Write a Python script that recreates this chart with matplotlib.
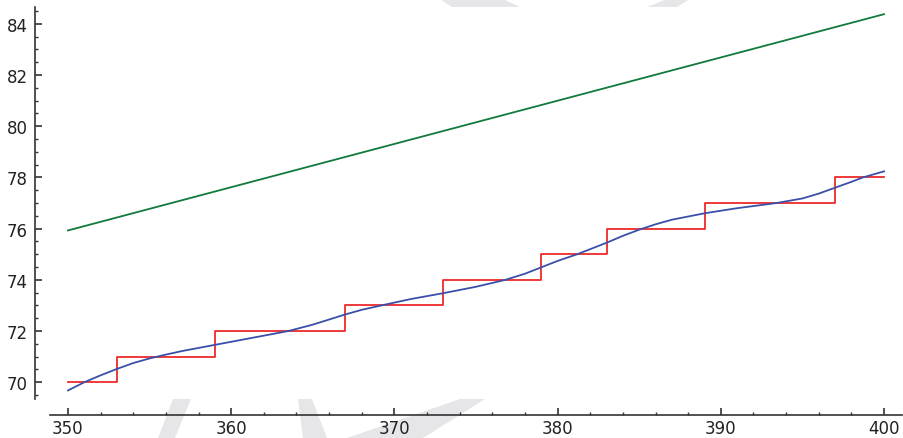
import numpy as np
import matplotlib
matplotlib.use("Agg")
import matplotlib.pyplot as plt
from matplotlib.patches import Polygon
from matplotlib.ticker import MultipleLocator, FixedLocator

# prime counting steps (value holds from x to next x)
step_x = [350, 353, 359, 367, 373, 379, 383, 389, 397, 400]
step_y = [70, 71, 72, 73, 74, 75, 76, 77, 78, 78]

# smooth approximation
smooth_x = [350, 351, 352, 353, 354, 355, 356, 357, 359, 361, 363.5, 365, 366, 367, 368, 369.2,
            371, 373, 375, 376.8, 378, 379, 380, 381.2, 383, 384, 385, 386, 387,
            389, 391, 393.4, 395, 396, 397, 398, 398.7, 400]
smooth_y = [69.68, 70.0, 70.27, 70.52, 70.75, 70.93, 71.08, 71.22, 71.46, 71.7, 72.0, 72.25, 72.45, 72.65, 72.83, 73.0,
            73.25, 73.48, 73.73, 74.0, 74.24, 74.49, 74.74, 75.0, 75.45, 75.72, 75.96, 76.17, 76.35,
            76.6, 76.8, 77.0, 77.18, 77.37, 77.6, 77.83, 78.0, 78.24]

# straight line
line_x = [350, 400]
line_y = [75.93, 84.38]

W, H = 904, 439
fig = plt.figure(figsize=(W / 100, H / 100), dpi=100)

# light grey watermark pieces (figure pixels)
wm = [
    [(440, 0), (503, 0), (520, 8), (452, 8)],
    [(667, 0), (690, 0), (677, 8), (647, 8)],
    [(173, 400), (191, 400), (175, 439), (158, 439)],
    [(298, 400), (312, 400), (327, 439), (303, 439)],
    [(460, 400), (485, 400), (423, 439), (347, 439)],
]
for pts in wm:
    p = [(x / W, 1 - y / H) for x, y in pts]
    fig.patches.append(Polygon(p, closed=True, transform=fig.transFigure,
                               facecolor="#e6e6e8", edgecolor="none", zorder=-5))

ax = fig.add_axes([35 / W, (H - 416) / H, 867 / W, 408 / H])
ax.patch.set_alpha(0)

ax.step(step_x, step_y, where="post", color="#ee2a2a", lw=1.3, zorder=3)
ax.plot(smooth_x, smooth_y, color="#3a50a8", lw=1.3, zorder=4)
ax.plot(line_x, line_y, color="#117a3c", lw=1.3, zorder=4)

ax.set_xlim(347.98, 401.1)
ax.set_ylim(68.72, 84.66)

for s in ["top", "right"]:
    ax.spines[s].set_visible(False)
ax.spines["left"].set_bounds(69.35, 84.66)
ax.spines["bottom"].set_bounds(348.9, 401.1)
for s in ["left", "bottom"]:
    ax.spines[s].set_color("#333333")
    ax.spines[s].set_linewidth(1.2)

ax.xaxis.set_major_locator(MultipleLocator(10))
ax.xaxis.set_minor_locator(FixedLocator(np.arange(350, 401, 2)))
ax.yaxis.set_major_locator(MultipleLocator(2))
ax.yaxis.set_minor_locator(FixedLocator(np.arange(69.5, 84.6, 0.5)))
ax.tick_params(which="major", direction="in", length=5, width=1.2,
               color="#333333", labelsize=12, labelcolor="#222222")
ax.tick_params(axis="x", which="major", pad=3)
ax.tick_params(axis="y", which="major", pad=5)
ax.tick_params(which="minor", direction="in", length=2.5, width=1.0, color="#333333")

fig.savefig("out.png", dpi=100)
